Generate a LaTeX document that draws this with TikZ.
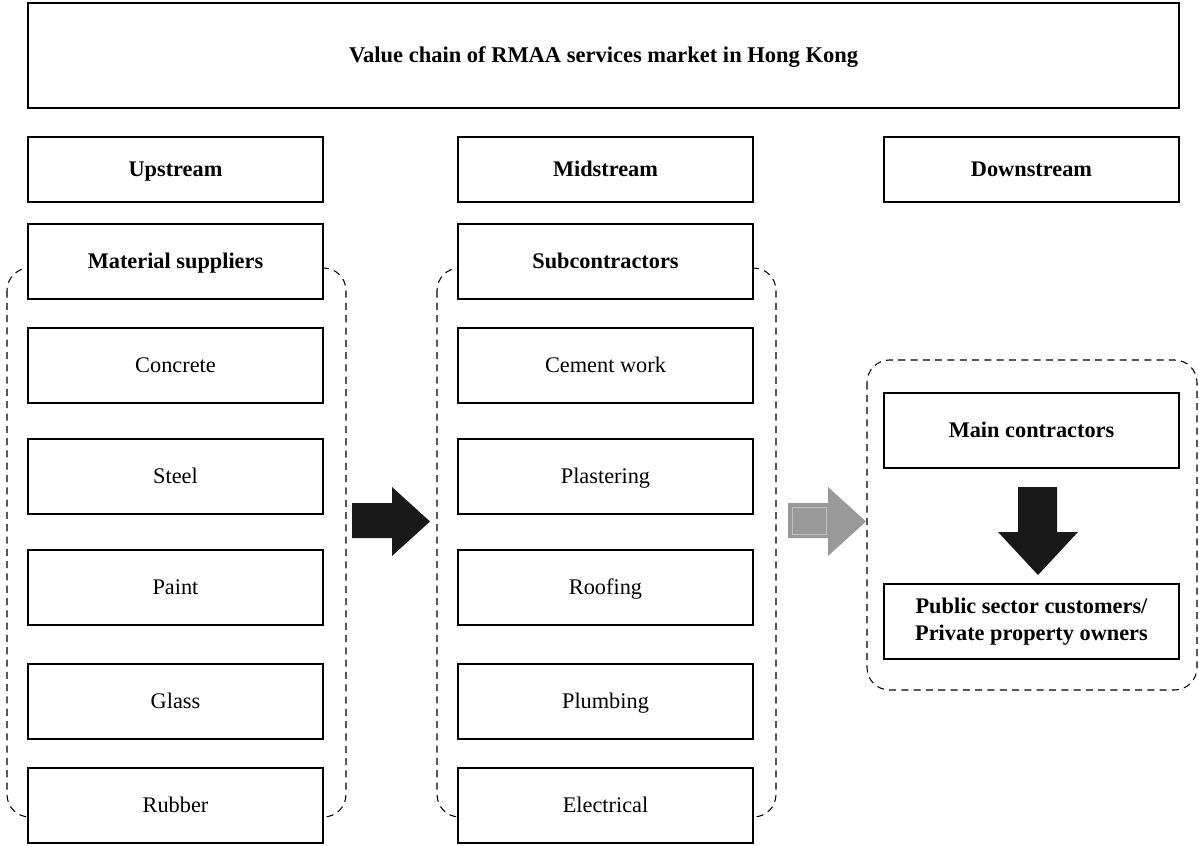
\documentclass[tikz,border=0pt]{standalone}
\usepackage{fontspec}
\setmainfont{Liberation Serif}
\usepackage{tikz}

\tikzset{
    box/.style={draw, line width=0.8pt, fill=white, minimum width=5.9cm, minimum height=1.5cm,
        inner sep=2pt, text height=0.86em, text depth=0.04em, font=\fontsize{12.7}{15.3}\selectfont},
    headbox/.style={box, minimum height=1.3cm, font=\fontsize{12.7}{15.3}\selectfont\bfseries},
    titlebox/.style={box, minimum width=23.02cm, minimum height=2.1cm, font=\fontsize{12.8}{15.3}\selectfont\bfseries},
    group/.style={draw, dashed, line width=0.6pt, dash pattern=on 4pt off 3pt, rounded corners=0.45cm},
}

\begin{document}
\begin{tikzpicture}
    \useasboundingbox (0,0) rectangle (23.98,-16.92);

    % Dashed groups
    \draw[group] (0.14,-5.36) rectangle (6.92,-16.34);
    \draw[group] (8.74,-5.36) rectangle (15.52,-16.34);
    \draw[group] (17.34,-7.2) rectangle (23.94,-13.8);

    % Title
    \node[titlebox] (title) at (12.07,-1.11) {Value chain of RMAA services market in Hong Kong};

    % Stream headers
    \node[headbox] (up) at (3.51,-3.39) {Upstream};
    \node[headbox] (mid) at (12.11,-3.39) {Midstream};
    \node[headbox] (down) at (20.63,-3.39) {Downstream};

    % Upstream column
    \node[box, font=\fontsize{12.7}{15.3}\selectfont\bfseries] (supp) at (3.51,-5.23) {Material suppliers};
    \foreach \n/\txt/\y in {a/Concrete/-7.31, b/Steel/-9.53, c/Paint/-11.75, d/Glass/-14.03, e/Rubber/-16.11}
        \node[box] (up-\n) at (3.51,\y) {\txt};

    % Midstream column
    \node[box, font=\fontsize{12.7}{15.3}\selectfont\bfseries] (sub) at (12.11,-5.23) {Subcontractors};
    \foreach \n/\txt/\y in {a/Cement work/-7.31, b/Plastering/-9.53, c/Roofing/-11.75, d/Plumbing/-14.03, e/Electrical/-16.11}
        \node[box] (mid-\n) at (12.11,\y) {\txt};

    % Downstream column
    \node[box, font=\fontsize{12.7}{15.3}\selectfont\bfseries] (main) at (20.63,-8.61) {Main contractors};
    \node[box, align=center, text height=, text depth=, font=\fontsize{12.7}{15.3}\selectfont\bfseries] (cust) at (20.63,-12.43)
        {Public sector customers/\\Private property owners};

    % Block arrows
    \fill[black!90] (7.04,-10.06) -- (7.84,-10.06) -- (7.84,-9.74) -- (8.6,-10.43)
        -- (7.84,-11.12) -- (7.84,-10.76) -- (7.04,-10.76) -- cycle;
    \fill[black!40] (15.76,-10.06) -- (16.56,-10.06) -- (16.56,-9.74) -- (17.32,-10.43)
        -- (16.56,-11.12) -- (16.56,-10.76) -- (15.76,-10.76) -- cycle;
    \draw[black!25, line width=0.4pt] (15.84,-10.14) rectangle (16.52,-10.68);
    \fill[black!90] (20.36,-9.74) -- (21.14,-9.74) -- (21.14,-10.64) -- (21.56,-10.64)
        -- (20.76,-11.5) -- (19.96,-10.64) -- (20.36,-10.64) -- cycle;
\end{tikzpicture}
\end{document}
